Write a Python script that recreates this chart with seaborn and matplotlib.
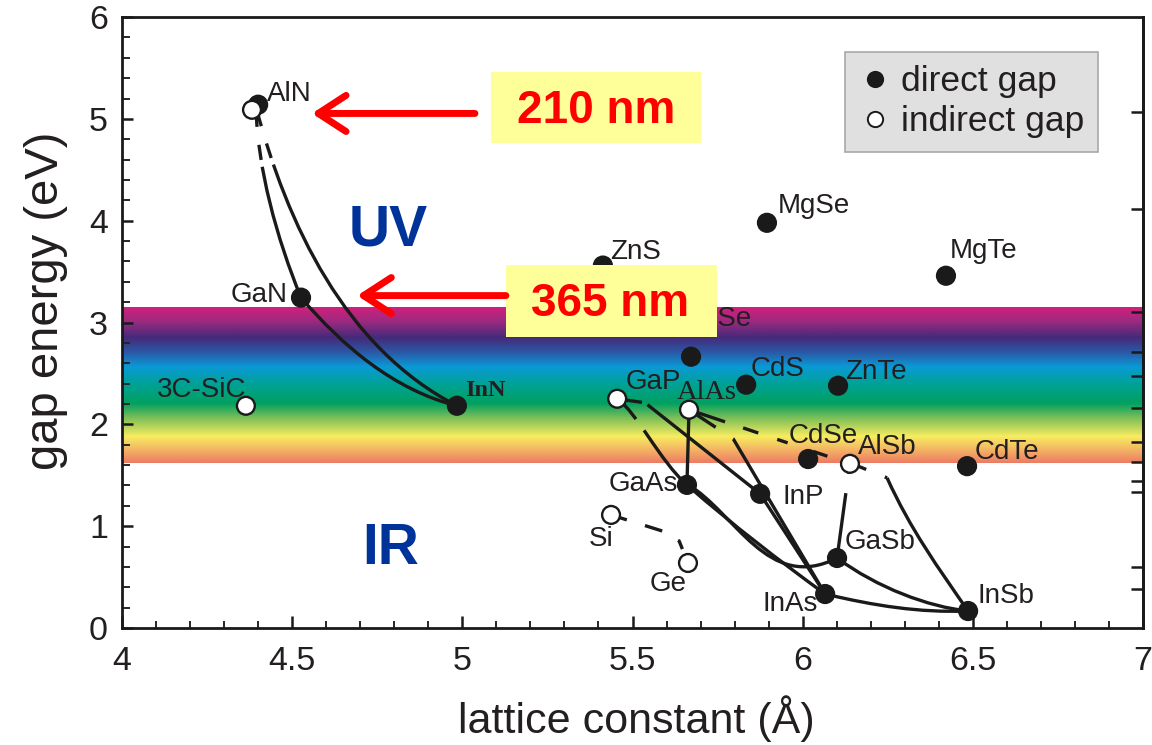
import numpy as np
import pandas as pd
import matplotlib
matplotlib.use("Agg")
import matplotlib.pyplot as plt
import seaborn as sns
from matplotlib.path import Path
from matplotlib.patches import PathPatch, Rectangle, FancyArrowPatch, ArrowStyle
from matplotlib.colors import LinearSegmentedColormap
from matplotlib.lines import Line2D
from matplotlib.ticker import MultipleLocator

# ---------------- data ----------------
compounds = ["AlN", "AlN*", "GaN", "InN", "3C-SiC", "ZnS", "ZnSe", "MgSe", "MgTe",
             "CdS", "ZnTe", "GaP", "AlAs", "CdSe", "AlSb", "CdTe", "GaAs", "InP",
             "Si", "Ge", "GaSb", "InAs", "InSb"]
lattice_A = [4.400, 4.382, 4.526, 4.984, 4.364, 5.413, 5.672, 5.895, 6.421,
             5.834, 6.104, 5.455, 5.666, 6.016, 6.139, 6.483, 5.660, 5.875,
             5.437, 5.663, 6.101, 6.066, 6.486]
gap_eV = [5.14, 5.09, 3.245, 2.183, 2.183, 3.56, 2.665, 3.98, 3.46,
          2.39, 2.38, 2.252, 2.144, 1.66, 1.613, 1.59, 1.406, 1.318,
          1.111, 0.639, 0.688, 0.334, 0.167]
gap_type = ["direct", "indirect", "direct", "direct", "indirect", "direct", "direct", "direct", "direct",
            "direct", "direct", "indirect", "indirect", "direct", "indirect", "direct", "direct", "direct",
            "indirect", "indirect", "direct", "direct", "direct"]

# alloy curves (lattice constant, gap energy)
alloy_AlGaN = [(4.394, 5.113), (4.414, 4.494), (4.461, 3.855), (4.526, 3.245)]
alloy_AlInN = [(4.394, 5.113), (4.514, 3.972), (4.705, 2.940), (4.984, 2.183)]
alloy_GaInN = [(4.526, 3.245), (4.658, 2.793), (4.810, 2.422), (4.984, 2.183)]
alloy_GaInP = [(5.455, 2.252), (5.537, 2.212), (5.875, 1.318)]
alloy_GaAsP = [(5.455, 2.252), (5.516, 2.026), (5.584, 1.701), (5.660, 1.406)]
alloy_AlGaAs = [(5.666, 2.144), (5.660, 1.406)]
alloy_AlInAs = [(5.666, 2.144), (5.796, 1.858), (6.066, 0.334)]
alloy_InAsP = [(5.875, 1.318), (6.066, 0.334)]
alloy_GaInAs = [(5.660, 1.406), (5.796, 1.023), (5.931, 0.669), (6.066, 0.334)]
alloy_GaAsSb = [(5.660, 1.416), (5.793, 1.023), (5.928, 0.659), (6.101, 0.688)]
alloy_AlAsSb = [(5.666, 2.144), (6.139, 1.613)]
alloy_AlGaSb = [(6.139, 1.622), (6.101, 0.688)]
alloy_AlSb_tail = [(6.139, 1.622), (6.248, 1.475)]
alloy_AlInSb = [(6.248, 1.475), (6.321, 1.003), (6.401, 0.580), (6.486, 0.167)]
alloy_GaInSb = [(6.101, 0.688), (6.227, 0.433), (6.360, 0.256), (6.486, 0.167)]
alloy_InAsSb = [(6.066, 0.334), (6.207, 0.236), (6.345, 0.177), (6.486, 0.167)]
alloy_SiGe = [(5.437, 1.111), (5.596, 0.944), (5.637, 0.855), (5.663, 0.639)]

# visible-light band (eV) and its colour stops
band_gap_range = (1.62, 3.15)
spectrum_eV = [1.61, 1.74, 1.87, 2.05, 2.20, 2.40, 2.56, 2.70, 2.85, 3.02, 3.15]
spectrum_colors = ["#ec7c64", "#f4b464", "#f8ec60", "#80c058", "#00a060", "#00a29a",
                   "#0a9ad6", "#2a5aa8", "#442a7a", "#a02a80", "#d0207c"]

# wavelength call-outs
callout_text = ["210 nm", "365 nm"]
callout_gap = [5.054, 3.265]
region_text = ["UV", "IR"]

x_ticks = [4, 4.5, 5, 5.5, 6, 6.5, 7]
x_ticklabels = ["4", "4.5", "5", "5.5", "6", "6.5", "7"]
y_ticks = [0, 1, 2, 3, 4, 5, 6]
y_ticklabels = ["0", "1", "2", "3", "4", "5", "6"]
right_ticks = [5.066, 4.116, 3.107, 2.709, 2.473, 2.157, 1.825, 1.630, 1.448, 1.336, 0.602, 0.386]

# ---------------- style / layout ----------------
sns.set_theme(style="ticks")
plt.rcParams["font.family"] = ["Liberation Sans", "DejaVu Sans"]
plt.rcParams["lines.scale_dashes"] = False
INK = "#1a1a1a"
TXT = "#231f20"

fig = plt.figure(figsize=(11.52, 7.45), dpi=100)
ax = fig.add_axes([0.1059, 0.157, 0.8863, 0.820])

# spectrum band
cmap = LinearSegmentedColormap.from_list(
    "spec", [((e - spectrum_eV[0]) / (spectrum_eV[-1] - spectrum_eV[0]), c)
             for e, c in zip(spectrum_eV, spectrum_colors)])
ax.imshow(np.linspace(0, 1, 256)[:, None], extent=(4, 7, band_gap_range[0], band_gap_range[1]),
          origin="lower", aspect="auto", cmap=cmap, zorder=0, interpolation="bilinear")

# curves
def curve_path(pts, smooth):
    p = np.asarray(pts, dtype=float)
    if smooth and len(p) == 4:
        P0, A, B, P3 = p
        C1 = (54 * A - 27 * B - 15 * P0 + 6 * P3) / 18
        C2 = (54 * B - 27 * A - 15 * P3 + 6 * P0) / 18
        return Path([P0, C1, C2, P3], [Path.MOVETO, Path.CURVE4, Path.CURVE4, Path.CURVE4])
    return Path(p, [Path.MOVETO] + [Path.LINETO] * (len(p) - 1))

solid = "solid"
curve_styles = [
    (alloy_AlGaN, True, (0, (14, 13, 11, 5, 2000, 1))),
    (alloy_AlInN, True, (0, (14, 13, 11, 5, 2000, 1))),
    (alloy_GaInN, True, solid),
    (alloy_GaInP, False, (0, (18, 4.5, 2000, 1))),
    (alloy_GaAsP, True, (0, (20, 10, 2000, 1))),
    (alloy_AlGaAs, False, solid),
    (alloy_AlInAs, False, (0, (23, 15, 2000, 1))),
    (alloy_InAsP, False, solid),
    (alloy_GaInAs, True, solid),
    (alloy_GaAsSb, True, solid),
    (alloy_AlAsSb, False, (0, (27.4, 13.7, 11.5, 14.4, 7.9, 19.4, 10.8, 40))),
    (alloy_AlGaSb, False, (0, (8, 14, 2000, 1))),
    (alloy_AlSb_tail, False, (0, (12.6, 14.4, 2.5, 20))),
    (alloy_AlInSb, True, solid),
    (alloy_GaInSb, True, solid),
    (alloy_InAsSb, True, solid),
    (alloy_SiGe, False, (0, (11.9, 13.7, 13, 13.3, 7.2, 30))),
]
for pts, smooth, ls in curve_styles:
    ax.add_patch(PathPatch(curve_path(pts, smooth), fill=False, edgecolor=INK,
                           linewidth=2.4, linestyle=ls, capstyle="butt", zorder=3))

# points
df = pd.DataFrame({"compound": compounds, "lattice": lattice_A, "gap": gap_eV, "type": gap_type})
sns.scatterplot(data=df, x="lattice", y="gap", hue="type",
                palette={"direct": INK, "indirect": "white"},
                edgecolor=INK, linewidth=1.7, s=165, legend=False, ax=ax, zorder=5)

# labels (offsets in pixels: dx, dy up)
label_layout = {
    "AlN": (9, 4, "left", "sans", 20, "normal"),
    "GaN": (-13, -4, "right", "sans", 20, "normal"),
    "InN": (8, 10, "left", "serif", 17.5, "bold"),
    "3C-SiC": (1, 9, "right", "sans", 20, "normal"),
    "ZnS": (7, 7, "left", "sans", 20, "normal"),
    "ZnSe": (-6, 31, "left", "sans", 20, "normal"),
    "MgSe": (11, 10, "left", "sans", 20, "normal"),
    "MgTe": (4, 18, "left", "sans", 20, "normal"),
    "CdS": (4, 9, "left", "sans", 20, "normal"),
    "ZnTe": (7, 7, "left", "sans", 20, "normal"),
    "GaP": (8, 10, "left", "sans", 20, "normal"),
    "AlAs": (-12, 11, "left", "serif", 20.5, "normal"),
    "CdSe": (-19, 16, "left", "sans", 20, "normal"),
    "AlSb": (8, 10, "left", "sans", 20, "normal"),
    "CdTe": (8, 7, "left", "sans", 20, "normal"),
    "GaAs": (-9, -6, "right", "sans", 20, "normal"),
    "InP": (22, -10, "left", "sans", 20, "normal"),
    "Si": (2, -31, "right", "sans", 20, "normal"),
    "Ge": (-1, -28, "right", "sans", 20, "normal"),
    "GaSb": (8, 9, "left", "sans", 20, "normal"),
    "InAs": (-7, -17, "right", "sans", 20, "normal"),
    "InSb": (9, 8, "left", "sans", 20, "normal"),
}
for name, xv, yv in zip(compounds, lattice_A, gap_eV):
    if name not in label_layout:
        continue
    dx, dy, ha, fam, fs, fw = label_layout[name]
    family = ["Liberation Serif", "DejaVu Serif"] if fam == "serif" else ["Liberation Sans", "DejaVu Sans"]
    ax.annotate(name, (xv, yv), xytext=(dx * 0.72, dy * 0.72), textcoords="offset points",
                ha=ha, va="baseline", fontsize=fs, fontweight=fw, family=family,
                color=TXT, zorder=6)

# call-out boxes and arrows
box_layout = [
    dict(x0=5.084, x1=5.701, y0=4.76, y1=5.46, tx=5.392, ty=4.956, ax0=5.037, ax1=4.558),
    dict(x0=5.128, x1=5.748, y0=2.861, y1=3.569, tx=5.433, ty=3.068, ax0=5.128, ax1=4.691),
]
for txt, ey, b in zip(callout_text, callout_gap, box_layout):
    ax.add_patch(Rectangle((b["x0"], b["y0"]), b["x1"] - b["x0"], b["y1"] - b["y0"],
                           facecolor="#ffff99", edgecolor="none", zorder=8))
    ax.text(b["tx"], b["ty"], txt, ha="center", va="baseline", fontsize=33,
            fontweight="bold", color="#ff0000", zorder=9)
    ax.add_patch(FancyArrowPatch((b["ax0"], ey), (b["ax1"], ey),
                                 arrowstyle=ArrowStyle("->", head_length=20, head_width=13),
                                 mutation_scale=1, color="#ff0000", linewidth=5,
                                 shrinkA=0, shrinkB=0, capstyle="round", joinstyle="round",
                                 zorder=8))

ax.text(4.783, 3.904, region_text[0], ha="center", va="center", fontsize=41,
        fontweight="bold", color="#00339a", zorder=6)
ax.text(4.790, 0.777, region_text[1], ha="center", va="center", fontsize=41,
        fontweight="bold", color="#00339a", zorder=6)

# legend
handles = [Line2D([], [], linestyle="none", marker="o", markersize=11,
                  markerfacecolor=INK, markeredgecolor=INK, markeredgewidth=1.4),
           Line2D([], [], linestyle="none", marker="o", markersize=11,
                  markerfacecolor="white", markeredgecolor=INK, markeredgewidth=1.4)]
leg = ax.legend(handles, ["direct gap", "indirect gap"], loc="upper right",
                bbox_to_anchor=(0.956, 0.943), frameon=True, fancybox=False,
                facecolor="#e0e0e0", edgecolor="#a8a8a8", framealpha=1, fontsize=25.5,
                handletextpad=0.3, handlelength=0.9, borderpad=0.38, labelspacing=0.2,
                borderaxespad=0)
leg.get_frame().set_linewidth(1.2)
for t in leg.get_texts():
    t.set_color(TXT)
leg.set_zorder(10)

# axes
ax.set_xlim(4, 7)
ax.set_ylim(0, 6)
ax.set_xticks(x_ticks)
ax.set_xticklabels(x_ticklabels)
ax.set_yticks(y_ticks)
ax.set_yticklabels(y_ticklabels)
ax.xaxis.set_minor_locator(MultipleLocator(0.1))
ax.yaxis.set_minor_locator(MultipleLocator(0.2))
ax.tick_params(axis="x", which="major", direction="in", length=9, width=1.8, labelsize=24.5,
               pad=13, colors=INK, top=False)
ax.tick_params(axis="x", which="minor", direction="in", length=5, width=1.4, top=False)
ax.tick_params(axis="y", which="major", direction="in", length=8, width=1.8, labelsize=24.5,
               pad=10, colors=INK, right=False)
ax.tick_params(axis="y", which="minor", direction="in", length=6, width=1.4, right=False)
for lab in ax.get_xticklabels() + ax.get_yticklabels():
    lab.set_color(TXT)
for sp in ax.spines.values():
    sp.set_visible(True)
    sp.set_linewidth(2)
    sp.set_color(INK)

sec = ax.secondary_yaxis("right")
sec.set_yticks(right_ticks)
sec.set_yticklabels([""] * len(right_ticks))
sec.tick_params(direction="in", length=9, width=1.8, colors=INK)
sec.spines["right"].set_linewidth(2)
sec.spines["right"].set_color(INK)

ax.set_xlabel("lattice constant (Å)", fontsize=31, color=TXT)
ax.set_ylabel("gap energy (eV)", fontsize=34, color=TXT)
ax.xaxis.set_label_coords(0.504, -0.11)
ax.yaxis.set_label_coords(-0.053, 0.535)

fig.savefig("out.png", dpi=100)
